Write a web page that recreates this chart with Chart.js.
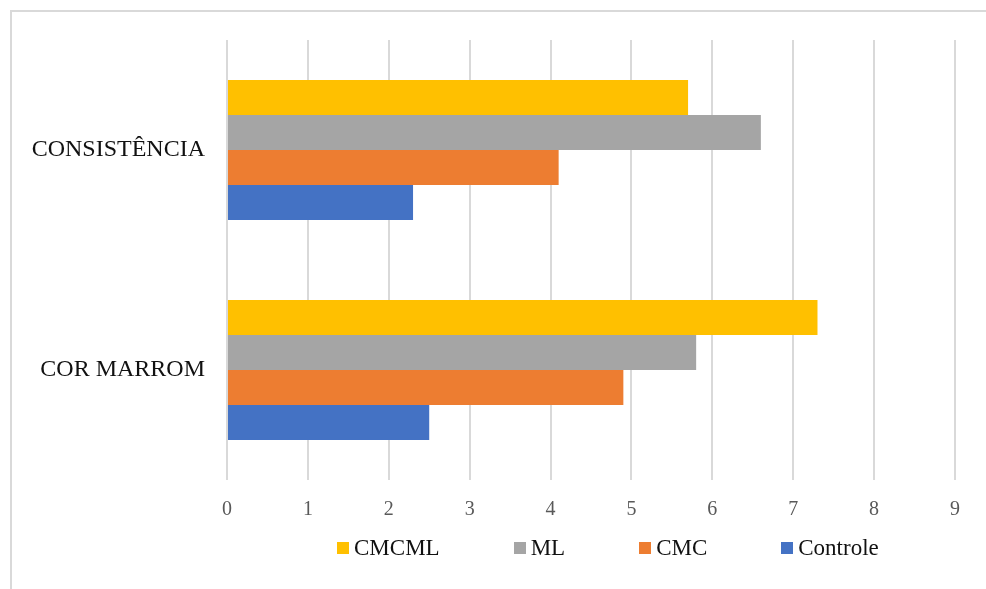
<!DOCTYPE html>
<html>
<head>
<meta charset="utf-8">
<script src="https://cdn.jsdelivr.net/npm/chart.js@4"></script>
<style>
    html, body { margin: 0; padding: 0; background: #fff; overflow: hidden; }
    #wrap { position: relative; width: 986px; height: 589px; }
    #frame {
        position: absolute; left: 10px; top: 10px; width: 1000px; height: 600px;
        border-left: 2px solid #d9d9d9; border-top: 2px solid #d9d9d9;
    }
    #legend {
        position: absolute; left: 337px; top: 535px;
        display: flex; align-items: center;
        font-family: 'Liberation Serif', serif; font-size: 23px; color: #111;
    }
    .item { display: flex; align-items: center; margin-right: 74px; }
    .box { width: 12px; height: 12px; margin-right: 5px; }
</style>
</head>
<body>
<div id="wrap">
    <div id="frame"></div>
    <canvas id="myChart" width="986" height="589"></canvas>
    <div id="legend"></div>
</div>
<script>
// categorias e séries
const categorias = ['CONSISTÊNCIA', 'COR MARROM'];
const cmcml = [5.7, 7.3];
const ml = [6.6, 5.8];
const cmc = [4.1, 4.9];
const controle = [2.3, 2.5];
const ticksX = [0, 1, 2, 3, 4, 5, 6, 7, 8, 9];

const ctx = document.getElementById('myChart').getContext('2d');
const myChart = new Chart(ctx, {
    type: 'bar',
    data: {
        labels: categorias,
        datasets: [{
            label: 'CMCML',
            data: cmcml,
            backgroundColor: '#FFC000'
        }, {
            label: 'ML',
            data: ml,
            backgroundColor: '#A5A5A5'
        }, {
            label: 'CMC',
            data: cmc,
            backgroundColor: '#ED7D31'
        }, {
            label: 'Controle',
            data: controle,
            backgroundColor: '#4472C4'
        }]
    },
    options: {
        indexAxis: 'y',
        responsive: false,
        animation: false,
        categoryPercentage: 0.636,
        barPercentage: 1,
        layout: {
            padding: { top: 40, right: 31, left: 0, bottom: 0 }
        },
        plugins: {
            legend: { display: false },
            tooltip: { enabled: false }
        },
        scales: {
            x: {
                min: ticksX[0],
                max: ticksX[ticksX.length - 1],
                afterBuildTicks: (scale) => {
                    scale.ticks = ticksX.map(v => ({ value: v }));
                },
                afterFit: (scale) => { scale.height = 109; },
                grid: { color: '#d9d9d9', lineWidth: 2, drawTicks: false },
                border: { display: false },
                ticks: {
                    padding: 18,
                    color: '#595959',
                    font: { family: 'Liberation Serif', size: 20 }
                }
            },
            y: {
                afterFit: (scale) => { scale.width = 227; },
                grid: { display: false, drawTicks: false },
                border: { display: false },
                ticks: {
                    padding: 22,
                    color: '#111',
                    font: { family: 'Liberation Serif', size: 24 }
                }
            }
        }
    }
});

// legenda
const legenda = document.getElementById('legend');
myChart.data.datasets.forEach(ds => {
    const item = document.createElement('div');
    item.className = 'item';
    const box = document.createElement('span');
    box.className = 'box';
    box.style.background = ds.backgroundColor;
    const txt = document.createElement('span');
    txt.textContent = ds.label;
    item.appendChild(box);
    item.appendChild(txt);
    legenda.appendChild(item);
});
</script>
</body>
</html>
